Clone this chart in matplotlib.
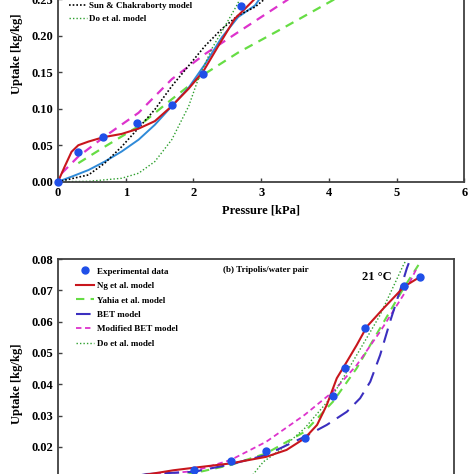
import matplotlib
matplotlib.use("Agg")
import matplotlib.pyplot as plt

plt.rcParams['font.family'] = ['Liberation Serif', 'DejaVu Serif']
plt.rcParams['font.weight'] = 'bold'

# ---------------- (a) top panel data ----------------
top_exp_x = [0.0, 0.30, 0.67, 1.17, 1.68, 2.14, 2.70]
top_exp_y = [0.0, 0.041, 0.061, 0.081, 0.105, 0.148, 0.241]

top_ng_x = [0.0, 0.10, 0.20, 0.30, 0.45, 0.67, 0.94, 1.19, 1.43, 1.68, 1.93, 2.15, 2.37, 2.61, 2.76, 2.91]
top_ng_y = [0.0, 0.021, 0.041, 0.050, 0.055, 0.061, 0.0655, 0.0728, 0.083, 0.1036, 0.1276, 0.152, 0.1865, 0.2233, 0.237, 0.251]

top_blue_x = [0.0, 0.20, 0.45, 0.69, 0.94, 1.19, 1.43, 1.68, 1.93, 2.17, 2.42, 2.66, 2.91, 2.98]
top_blue_y = [0.0, 0.0069, 0.016, 0.0276, 0.0414, 0.0576, 0.078, 0.1036, 0.129, 0.161, 0.198, 0.2257, 0.2417, 0.251]

top_sun_x = [0.0, 0.45, 0.69, 0.94, 1.19, 1.43, 1.68, 1.93, 2.17, 2.42, 2.66, 2.91, 3.06]
top_sun_y = [0.0, 0.0093, 0.0254, 0.048, 0.0737, 0.099, 0.131, 0.159, 0.186, 0.2095, 0.228, 0.2395, 0.251]

top_do_x = [0.0, 0.45, 0.94, 1.19, 1.43, 1.68, 1.93, 2.07, 2.27, 2.47, 2.64, 2.69]
top_do_y = [0.0, 0.0005, 0.0047, 0.0116, 0.0276, 0.0576, 0.1036, 0.1405, 0.182, 0.214, 0.2417, 0.251]

top_yahia_x = [0.30, 0.69, 1.19, 1.68, 2.12, 2.66, 3.35, 4.10]
top_yahia_y = [0.0254, 0.048, 0.076, 0.113, 0.145, 0.177, 0.212, 0.251]

top_mbet_x = [0.055, 0.30, 0.69, 1.19, 1.68, 2.17, 2.66, 3.40]
top_mbet_y = [0.0116, 0.0345, 0.062, 0.0945, 0.1405, 0.175, 0.205, 0.250]

top_xticks = [0, 1, 2, 3, 4, 5, 6]
top_yticks = [0.00, 0.05, 0.10, 0.15, 0.20, 0.25, 0.30, 0.35]

# ---------------- (b) bottom panel data ----------------
bot_exp_x = [1.20, 1.527, 1.84, 2.18, 2.43, 2.54, 2.71, 3.06, 3.20]
bot_exp_y = [0.0126, 0.0156, 0.0188, 0.0227, 0.0362, 0.0453, 0.0579, 0.0715, 0.0743]

bot_ng_x = [0.60, 0.813, 1.02, 1.20, 1.527, 1.84, 2.02, 2.18, 2.29, 2.376, 2.464, 2.553, 2.64, 2.73, 2.876, 3.06, 3.20]
bot_ng_y = [0.0100, 0.0113, 0.0125, 0.0133, 0.0147, 0.0168, 0.0190, 0.0227, 0.0270, 0.0334, 0.0419, 0.0472, 0.0525, 0.0584, 0.0642, 0.0712, 0.0743]

bot_bet_x = [0.60, 0.784, 1.20, 1.527, 1.84, 2.18, 2.376, 2.553, 2.67, 2.76, 2.847, 2.935, 3.02, 3.083, 3.127]
bot_bet_y = [0.0100, 0.0113, 0.0120, 0.0144, 0.0174, 0.0232, 0.0270, 0.0312, 0.0355, 0.0408, 0.0493, 0.0600, 0.0696, 0.0770, 0.0813]

bot_yahia_x = [1.05, 1.167, 1.527, 1.84, 2.18, 2.43, 2.64, 2.847, 3.053, 3.186]
bot_yahia_y = [0.0100, 0.0113, 0.0142, 0.0179, 0.0248, 0.0344, 0.0451, 0.0579, 0.0706, 0.0781]

bot_mbet_x = [0.60, 0.784, 1.20, 1.527, 1.84, 2.18, 2.43, 2.64, 2.847, 3.053, 3.17]
bot_mbet_y = [0.0100, 0.0110, 0.0122, 0.0158, 0.0216, 0.0302, 0.0376, 0.0461, 0.0568, 0.0685, 0.0770]

bot_do_x = [1.68, 1.727, 1.815, 1.963, 2.18, 2.43, 2.64, 2.847, 3.053, 3.07]
bot_do_y = [0.0080, 0.0113, 0.0152, 0.0190, 0.0259, 0.0365, 0.0493, 0.0621, 0.0781, 0.0792]

bot_yticks = [0.00, 0.01, 0.02, 0.03, 0.04, 0.05, 0.06, 0.07, 0.08]

C_EXP = '#1f4fe8'
C_NG = '#c8161d'
C_YAHIA = '#66dd44'
C_BET = '#3b2fbf'
C_MBET = '#dd33cc'
C_DO = '#2ea02e'
C_BLUE = '#2f8ad8'
FRAME = '#404040'

fig = plt.figure(figsize=(4.74, 4.74), dpi=100)


def style(ax):
    for s in ax.spines.values():
        s.set_color(FRAME)
        s.set_linewidth(1.3)
    ax.tick_params(direction='in', length=3, width=1, colors=FRAME,
                   labelcolor='black', labelsize=9)
    for lab in ax.get_xticklabels() + ax.get_yticklabels():
        lab.set_fontweight('bold')


# ---- top axes ----
ax1 = fig.add_axes([58/474, 1-181.7/474, 406.3/474, 255.3/474])
ax1.plot(top_yahia_x, top_yahia_y, color=C_YAHIA, lw=1.6, ls=(0, (4, 3)))
ax1.plot(top_mbet_x, top_mbet_y, color=C_MBET, lw=1.6, ls=(0, (4, 3)))
ax1.plot(top_blue_x, top_blue_y, color=C_BLUE, lw=1.4)
l_sun, = ax1.plot(top_sun_x, top_sun_y, color='black', lw=1.2, ls=(0, (1, 1.2)),
                  label='Sun & Chakraborty model')
l_do, = ax1.plot(top_do_x, top_do_y, color=C_DO, lw=1.0, ls=(0, (1, 1.5)),
                 label='Do et al. model')
ax1.plot(top_ng_x, top_ng_y, color=C_NG, lw=1.5)
ax1.plot(top_exp_x, top_exp_y, 'o', color=C_EXP, ms=5, zorder=5, clip_on=False)
ax1.set_xlim(0, 6)
ax1.set_ylim(0, 0.35)
ax1.set_xticks(top_xticks)
ax1.set_yticks(top_yticks)
ax1.set_yticklabels([f'{v:.2f}' for v in top_yticks])
ax1.set_xlabel('Pressure [kPa]', fontsize=9, fontweight='bold', labelpad=4)
ax1.set_ylabel('Uptake [kg/kg]', fontsize=9, fontweight='bold', labelpad=6)
style(ax1)
ax1.legend(handles=[l_sun, l_do], loc='upper left',
           bbox_to_anchor=(0.015, 0.722), frameon=False,
           prop={'size': 6.5, 'weight': 'bold'}, handlelength=2.0,
           handletextpad=0.3, labelspacing=0.55, borderpad=0)

# ---- bottom axes ----
ax2 = fig.add_axes([58/474, 1-509.4/474, 396/474, 250.4/474])
h_yahia, = ax2.plot(bot_yahia_x, bot_yahia_y, color=C_YAHIA, lw=1.5, ls=(0, (4, 3)),
                    label='Yahia et al. model')
h_mbet, = ax2.plot(bot_mbet_x, bot_mbet_y, color=C_MBET, lw=1.3, ls=(0, (3, 2)),
                   label='Modified BET model')
h_do, = ax2.plot(bot_do_x, bot_do_y, color=C_DO, lw=1.0, ls=(0, (1, 1.5)),
                 label='Do et al. model')
h_bet, = ax2.plot(bot_bet_x, bot_bet_y, color=C_BET, lw=1.5, ls=(0, (7, 4)),
                  label='BET model')
h_ng, = ax2.plot(bot_ng_x, bot_ng_y, color=C_NG, lw=1.5, label='Ng et al. model')
h_exp, = ax2.plot(bot_exp_x, bot_exp_y, 'o', color=C_EXP, ms=5, zorder=5,
                  label='Experimental data')
ax2.set_xlim(0, 3.5)
ax2.set_ylim(0, 0.08)
ax2.set_yticks(bot_yticks)
ax2.set_yticklabels([f'{v:.2f}' for v in bot_yticks])
ax2.set_ylabel('Uptake [kg/kg]', fontsize=9, fontweight='bold', labelpad=6)
style(ax2)
ax2.legend(handles=[h_exp, h_ng, h_yahia, h_bet, h_mbet, h_do], loc='upper left',
           bbox_to_anchor=(0.035, 0.985), frameon=False,
           prop={'size': 6.5, 'weight': 'bold'}, handlelength=2.0,
           handletextpad=0.3, labelspacing=0.68, borderpad=0)
ax2.text(0.525, 0.955, '(b) Tripolis/water pair', transform=ax2.transAxes,
         ha='center', va='center', fontsize=6.5, fontweight='bold')
ax2.text(0.805, 0.93, '21 °C', transform=ax2.transAxes,
         ha='center', va='center', fontsize=9, fontweight='bold')

fig.savefig('out.png', dpi=100)
